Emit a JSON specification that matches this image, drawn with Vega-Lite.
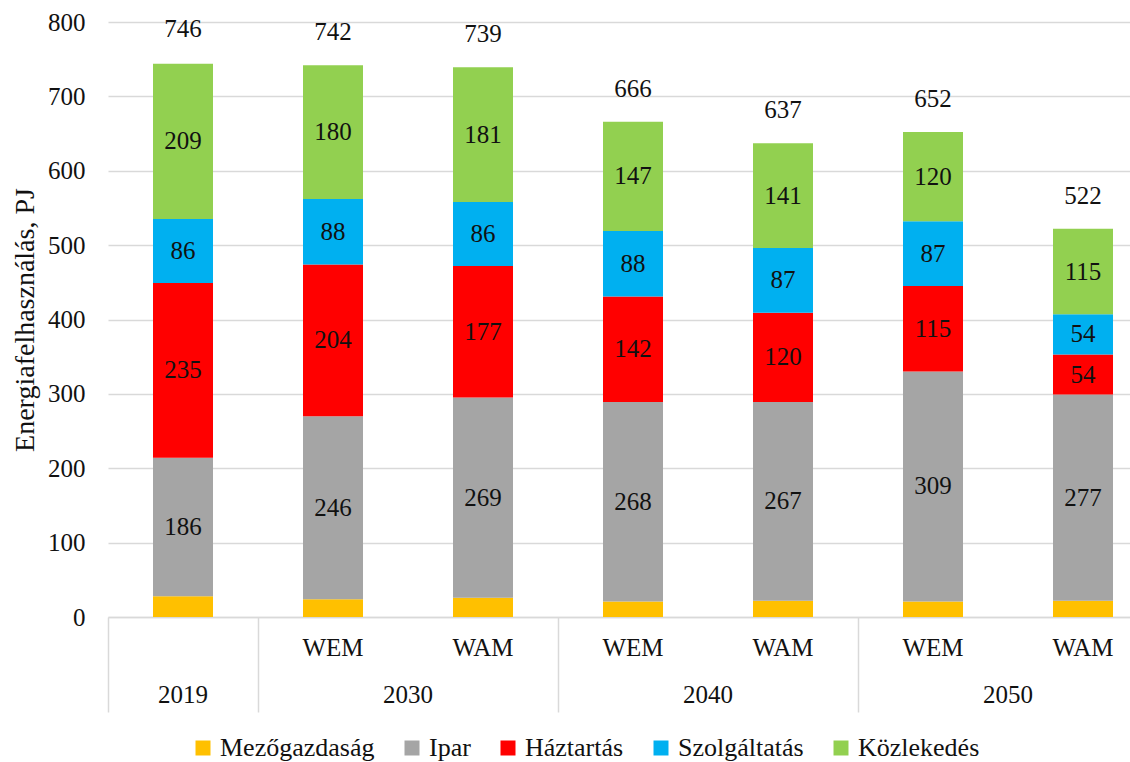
{
  "$schema": "https://vega.github.io/schema/vega-lite/v6.json",
  "width": 1022,
  "height": 595,
  "autosize": {"type": "none"},
  "padding": {"left": 108, "top": 22, "right": 0, "bottom": 145},
  "background": "white",
  "config": {
    "font": "Liberation Serif",
    "view": {"stroke": null},
    "axis": {"labelFont": "Liberation Serif", "titleFont": "Liberation Serif"},
    "legend": {"labelFont": "Liberation Serif", "titleFont": "Liberation Serif"},
    "text": {"font": "Liberation Serif"}
  },
  "datasets": {
    "energy": [
      {"label": "2019", "sector": "Mezőgazdaság", "value": 28},
      {"label": "2019", "sector": "Ipar", "value": 186},
      {"label": "2019", "sector": "Háztartás", "value": 235},
      {"label": "2019", "sector": "Szolgáltatás", "value": 86},
      {"label": "2019", "sector": "Közlekedés", "value": 209},
      {"label": "2030 WEM", "sector": "Mezőgazdaság", "value": 24},
      {"label": "2030 WEM", "sector": "Ipar", "value": 246},
      {"label": "2030 WEM", "sector": "Háztartás", "value": 204},
      {"label": "2030 WEM", "sector": "Szolgáltatás", "value": 88},
      {"label": "2030 WEM", "sector": "Közlekedés", "value": 180},
      {"label": "2030 WAM", "sector": "Mezőgazdaság", "value": 26},
      {"label": "2030 WAM", "sector": "Ipar", "value": 269},
      {"label": "2030 WAM", "sector": "Háztartás", "value": 177},
      {"label": "2030 WAM", "sector": "Szolgáltatás", "value": 86},
      {"label": "2030 WAM", "sector": "Közlekedés", "value": 181},
      {"label": "2040 WEM", "sector": "Mezőgazdaság", "value": 21},
      {"label": "2040 WEM", "sector": "Ipar", "value": 268},
      {"label": "2040 WEM", "sector": "Háztartás", "value": 142},
      {"label": "2040 WEM", "sector": "Szolgáltatás", "value": 88},
      {"label": "2040 WEM", "sector": "Közlekedés", "value": 147},
      {"label": "2040 WAM", "sector": "Mezőgazdaság", "value": 22},
      {"label": "2040 WAM", "sector": "Ipar", "value": 267},
      {"label": "2040 WAM", "sector": "Háztartás", "value": 120},
      {"label": "2040 WAM", "sector": "Szolgáltatás", "value": 87},
      {"label": "2040 WAM", "sector": "Közlekedés", "value": 141},
      {"label": "2050 WEM", "sector": "Mezőgazdaság", "value": 21},
      {"label": "2050 WEM", "sector": "Ipar", "value": 309},
      {"label": "2050 WEM", "sector": "Háztartás", "value": 115},
      {"label": "2050 WEM", "sector": "Szolgáltatás", "value": 87},
      {"label": "2050 WEM", "sector": "Közlekedés", "value": 120},
      {"label": "2050 WAM", "sector": "Mezőgazdaság", "value": 22},
      {"label": "2050 WAM", "sector": "Ipar", "value": 277},
      {"label": "2050 WAM", "sector": "Háztartás", "value": 54},
      {"label": "2050 WAM", "sector": "Szolgáltatás", "value": 54},
      {"label": "2050 WAM", "sector": "Közlekedés", "value": 115}
    ],
    "totals": [
      {"label": "2019", "total": 746},
      {"label": "2030 WEM", "total": 742},
      {"label": "2030 WAM", "total": 739},
      {"label": "2040 WEM", "total": 666},
      {"label": "2040 WAM", "total": 637},
      {"label": "2050 WEM", "total": 652},
      {"label": "2050 WAM", "total": 522}
    ]
  },
  "layer": [
    {
      "data": {"name": "energy"},
      "transform": [
        {"calculate": "indexof(['Mezőgazdaság', 'Ipar', 'Háztartás', 'Szolgáltatás', 'Közlekedés'], datum.sector)", "as": "rank"}
      ],
      "mark": {"type": "bar", "width": {"band": 0.4}},
      "encoding": {
        "x": {
          "field": "label", "type": "nominal", "sort": null,
          "scale": {
            "domain": ["2019", "2030 WEM", "2030 WAM", "2040 WEM", "2040 WAM", "2050 WEM", "2050 WAM"],
            "range": [0, 1050], "paddingInner": 0, "paddingOuter": 0
          },
          "axis": {
            "orient": "bottom",
            "title": null, "grid": false, "ticks": false, "labelAngle": 0,
            "labelExpr": "indexof(datum.value, ' ') > 0 ? slice(datum.value, 5) : ''",
            "domainColor": "#d9d9d9", "domainWidth": 1.5,
            "labelFont": "Liberation Serif",
            "labelFontSize": 25, "labelColor": "#111", "labelPadding": 18,
            "labelOverlap": false
          }
        },
        "y": {
          "field": "value", "type": "quantitative", "stack": "zero",
          "scale": {"domain": [0, 800], "nice": false},
          "axis": {
            "title": "Energiafelhasználás, PJ", "domain": false, "ticks": false,
            "grid": true, "gridColor": "#d9d9d9", "gridWidth": 1.5,
            "values": [0, 100, 200, 300, 400, 500, 600, 700, 800],
            "labelFont": "Liberation Serif", "titleFont": "Liberation Serif",
            "labelFontSize": 25, "labelColor": "#111", "labelPadding": 23,
            "titleFontSize": 28, "titleFontWeight": "normal", "titleColor": "#111",
            "titlePadding": 8
          }
        },
        "order": {"field": "rank", "type": "quantitative", "sort": "ascending"},
        "color": {
          "field": "sector", "type": "nominal",
          "scale": {
            "domain": ["Mezőgazdaság", "Ipar", "Háztartás", "Szolgáltatás", "Közlekedés"],
            "range": ["#FFC000", "#A5A5A5", "#FF0000", "#00B0F0", "#92D050"]
          },
          "legend": {
            "orient": "none", "legendX": 82, "legendY": 713, "direction": "horizontal",
            "title": null, "symbolType": "square", "symbolSize": 225, "symbolStrokeWidth": 0,
            "labelFont": "Liberation Serif",
            "labelFontSize": 26, "labelColor": "#111", "labelOffset": 4,
            "columnPadding": 24, "labelLimit": 0
          }
        }
      }
    },
    {
      "data": {"name": "energy"},
      "transform": [
        {"calculate": "indexof(['Mezőgazdaság', 'Ipar', 'Háztartás', 'Szolgáltatás', 'Közlekedés'], datum.sector)", "as": "rank"}
      ],
      "mark": {"type": "text", "fontSize": 25, "baseline": "middle", "align": "center", "color": "#111", "font": "Liberation Serif"},
      "encoding": {
        "x": {"field": "label", "type": "nominal", "sort": null, "axis": null},
        "y": {"field": "value", "type": "quantitative", "stack": "zero", "bandPosition": 0.5},
        "detail": {"field": "sector", "type": "nominal"},
        "order": {"field": "rank", "type": "quantitative", "sort": "ascending"},
        "text": {
          "condition": {"test": "datum.sector === 'Mezőgazdaság'", "value": ""},
          "field": "value", "type": "quantitative"
        }
      }
    },
    {
      "data": {"name": "totals"},
      "mark": {"type": "text", "fontSize": 25, "baseline": "middle", "align": "center", "dy": -33, "color": "#111", "font": "Liberation Serif"},
      "encoding": {
        "x": {
          "field": "label", "type": "nominal", "sort": null,
          "axis": {
            "orient": "bottom",
            "title": null, "grid": false, "domain": false, "labelAngle": 0,
            "bandPosition": 0, "ticks": true, "tickSize": 95, "tickWidth": 1.5,
            "tickColor": {"condition": {"test": "indexof(datum.value, 'WAM') >= 0", "value": "rgba(0,0,0,0)"}, "value": "#d9d9d9"},
            "labelExpr": "datum.value == '2019' || indexof(datum.value, 'WAM') >= 0 ? slice(datum.value, 0, 4) : ''",
            "labelOffset": {"condition": {"test": "datum.value == '2019'", "value": 0}, "value": -75},
            "labelFont": "Liberation Serif",
            "labelPadding": -30, "labelFontSize": 25, "labelColor": "#111",
            "labelOverlap": false, "labelBound": false, "labelFlush": false
          }
        },
        "y": {"field": "total", "type": "quantitative"},
        "text": {"field": "total", "type": "quantitative"}
      }
    }
  ],
  "resolve": {"axis": {"x": "independent"}}
}
